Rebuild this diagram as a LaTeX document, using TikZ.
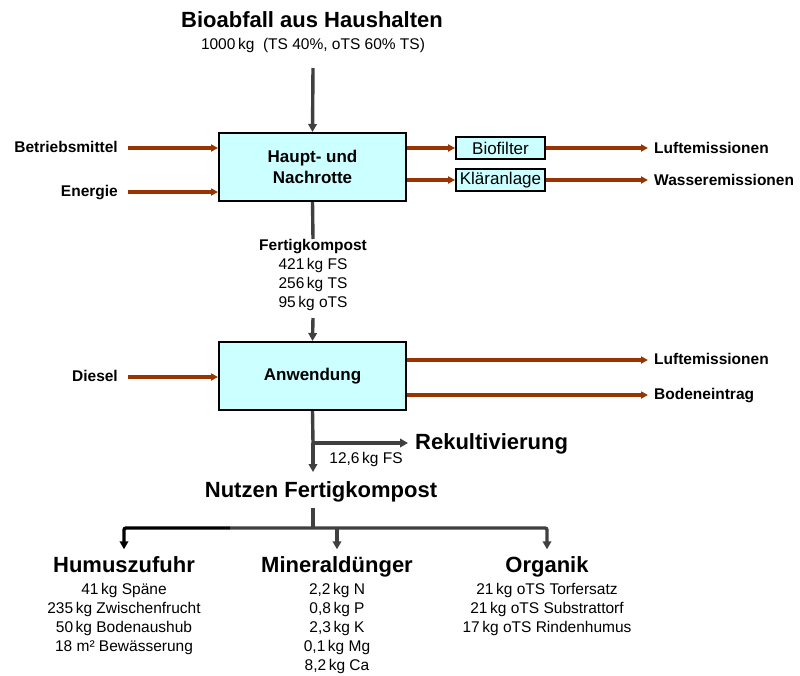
\documentclass[tikz,border=0pt]{standalone}
\usepackage{fontspec}
\setmainfont{Liberation Sans}
\usetikzlibrary{arrows.meta}
\definecolor{flowbrown}{RGB}{153,51,0}
\definecolor{flowgray}{RGB}{64,64,64}
\definecolor{boxcyan}{RGB}{204,255,255}
\tikzset{
  procbox/.style={draw=black,line width=2pt,fill=boxcyan,minimum width=187pt,
    minimum height=68pt,align=center,font=\fontsize{17}{21}\selectfont\bfseries},
  smallbox/.style={draw=black,line width=1.8pt,fill=boxcyan,minimum width=89pt,
    minimum height=22pt,inner sep=0pt,font=\fontsize{17}{20}\selectfont},
  sidelabel/.style={font=\fontsize{15.5}{19}\selectfont\bfseries,inner sep=0pt,
    text height=11pt,text depth=3pt},
  plain/.style={font=\fontsize{15.5}{19}\selectfont,align=center,inner sep=0pt},
  bigtitle/.style={font=\fontsize{22}{26}\selectfont\bfseries,inner sep=0pt,
    text height=16pt,text depth=5pt},
  brownflow/.style={flowbrown,line width=3.2pt,-{Triangle[length=7pt,width=7pt]}},
  grayflow/.style={flowgray,line width=3.4pt,-{Triangle[length=8pt,width=8.5pt]}},
}
\begin{document}
\begin{tikzpicture}[x=1pt,y=-1pt]
    \useasboundingbox (0,0) rectangle (800,675);

    % input and first process
    \node[bigtitle] (bio) at (312,22) {Bioabfall aus Haushalten};
    \node[plain] (bioamount) at (313,45) {1000\,kg \ (TS 40\%, oTS 60\% TS)};
    \node[procbox] (rotte) at (312.5,167) {Haupt- und\\Nachrotte};
    \draw[grayflow] (313,68) -- (rotte.north);

    % inputs on the left
    \node[sidelabel,anchor=east] (betrieb) at (118,148) {Betriebsmittel};
    \node[sidelabel,anchor=east] (energie) at (118,192) {Energie};
    \draw[brownflow] ([xshift=10pt]betrieb.east) -- (betrieb.east -| rotte.west);
    \draw[brownflow] ([xshift=10pt]energie.east) -- (energie.east -| rotte.west);

    % treatment and emissions
    \node[smallbox] (biofilter) at (500.5,148) {Biofilter};
    \node[smallbox] (klaer) at (500.5,180) {Kläranlage};
    \node[sidelabel,anchor=west] (luft1) at (654,149) {Luftemissionen};
    \node[sidelabel,anchor=west] (wasser) at (654,181) {Wasseremissionen};
    \draw[brownflow] (biofilter.west -| rotte.east) -- (biofilter.west);
    \draw[brownflow] (klaer.west -| rotte.east) -- (klaer.west);
    \draw[brownflow] (biofilter.east) -- ([xshift=-6pt]biofilter.east -| luft1.west);
    \draw[brownflow] (klaer.east) -- ([xshift=-6pt]klaer.east -| wasser.west);

    % finished compost
    \node[plain,anchor=north] (fertig) at (313,239)
      {\textbf{Fertigkompost}\\421\,kg FS\\256\,kg TS\\95\,kg oTS};
    \draw[flowgray,line width=3.4pt] (rotte.south) -- (fertig.north);
    \node[procbox] (anwendung) at (312.5,376) {Anwendung};
    \draw[grayflow] (313,318) -- (anwendung.north);

    % application: inputs and outputs
    \node[sidelabel,anchor=east] (diesel) at (118,377) {Diesel};
    \draw[brownflow] ([xshift=10pt]diesel.east) -- (diesel.east -| anwendung.west);
    \node[sidelabel,anchor=west] (luft2) at (654,360) {Luftemissionen};
    \node[sidelabel,anchor=west] (boden) at (654,395) {Bodeneintrag};
    \draw[brownflow] (luft2.west -| anwendung.east) -- ([xshift=-6pt]luft2.west);
    \draw[brownflow] (boden.west -| anwendung.east) -- ([xshift=-6pt]boden.west);

    % recultivation branch
    \coordinate (split) at (313,443);
    \coordinate (down) at (313,472);
    \node[bigtitle,anchor=west] (rekult) at (415,444) {Rekultivierung};
    \node[plain] (rekamount) at (366,459) {12,6\,kg FS};
    \draw[flowgray,line width=3.4pt] (anwendung.south) -- (split);
    \draw[grayflow] (split) -- (down);
    \draw[grayflow] (split) -- ([xshift=-7pt]rekult.west |- split);

    % benefit of finished compost
    \node[bigtitle] (nutzen) at (321,492) {Nutzen Fertigkompost};
    \coordinate (fork) at (313,528);
    \node[bigtitle] (humus) at (124,567) {Humuszufuhr};
    \node[bigtitle] (mineral) at (337,567) {Mineraldünger};
    \node[bigtitle] (organik) at (547,567) {Organik};
    \draw[flowgray,line width=3.4pt] (313,508) -- (fork);
    \draw[grayflow,black,rounded corners=2pt] (230,528) -| ([yshift=7pt]humus.north);
    \draw[grayflow,rounded corners=2pt] (230,528) -| ([yshift=7pt]organik.north);
    \draw[grayflow] (mineral.north |- fork) -- ([yshift=7pt]mineral.north);

    % amounts
    \node[plain,anchor=north] (humusitems) at (124,583)
      {41\,kg Späne\\235\,kg Zwischenfrucht\\50\,kg Bodenaushub\\18 m² Bewässerung};
    \node[plain,anchor=north] (mineralitems) at (337,583)
      {2,2\,kg N\\0,8\,kg P\\2,3\,kg K\\0,1\,kg Mg\\8,2\,kg Ca};
    \node[plain,anchor=north] (organikitems) at (547,583)
      {21\,kg oTS Torfersatz\\21\,kg oTS Substrattorf\\17\,kg oTS Rindenhumus};
\end{tikzpicture}
\end{document}
